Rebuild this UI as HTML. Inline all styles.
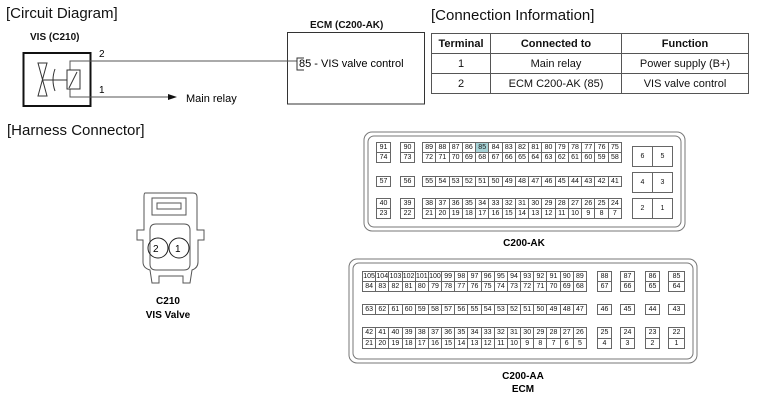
<!DOCTYPE html>
<html><head><style>
body{margin:0;width:757px;height:403px;background:#fff;position:relative;overflow:hidden;font-family:"Liberation Sans",Arial,sans-serif;color:#111}
.t{position:absolute;white-space:nowrap}
.b{position:absolute;display:grid;background:#666;gap:1px;padding:1px;box-sizing:border-box}
.b span{background:#fff;font-size:7px;display:flex;align-items:center;justify-content:center;line-height:1}
.h{background:#a8d4d8!important}
table{position:absolute;left:431px;top:33px;border-collapse:collapse;font-size:11px}
td{border:1px solid #555;text-align:center;height:19px;padding:0}
</style></head><body>
<div class="t" style="left:6px;top:5px;font-size:15px">[Circuit Diagram]</div>
<div class="t" style="left:431px;top:7px;font-size:15px">[Connection Information]</div>
<div class="t" style="left:7px;top:122px;font-size:15px">[Harness Connector]</div>
<div class="t" style="left:30px;top:32px;font-size:10px;font-weight:bold">VIS (C210)</div>
<div class="t" style="left:310px;top:20px;font-size:10px;font-weight:bold">ECM (C200-AK)</div>

<svg style="position:absolute;left:0;top:0" width="757" height="403">
<rect x="23.5" y="53" width="67" height="53" fill="none" stroke="#111" stroke-width="2"/>
<rect x="287.5" y="32.5" width="137" height="71.5" fill="none" stroke="#333"/>
<polyline points="70,70 70,61 297,61" fill="none" stroke="#555"/>
<polyline points="70,89 70,97 170,97" fill="none" stroke="#555"/>
<polygon points="168,94 177,97 168,100" fill="#111"/>
<polyline points="304,58 297,58 297,70 304,70" fill="none" stroke="#333"/>
<rect x="67" y="70" width="13" height="19" fill="none" stroke="#333"/>
<line x1="69" y1="88" x2="77" y2="72" stroke="#333"/>
<polygon points="38,63 47,63 38,96 47,96" fill="none" stroke="#333"/>
<line x1="43" y1="80" x2="67" y2="80" stroke="#333"/>
<path d="M55,69 Q51,80 55,91" fill="none" stroke="#333"/>
<text x="99" y="57" font-size="10">2</text>
<text x="99" y="93" font-size="10">1</text>
<text x="186" y="102" font-size="11">Main relay</text>
<text x="299" y="67" font-size="11">85 - VIS valve control</text>

<g fill="none" stroke="#555">
<path d="M145,193 H193 Q197,193 197,197 V230 H204 V240 H198 V262 Q198,268 192,270 L190,283 H183 V276 H159 V283 H152 L150,270 Q143,268 143,262 V240 H137 V230 H144 V197 Q144,193 145,193 Z"/>
<rect x="152" y="198" width="34" height="17"/>
<rect x="157" y="203" width="24" height="6"/>
<path d="M150,230 Q150,224 156,224 H184 Q190,224 190,230 V264 Q190,270 184,270 H156 Q150,270 150,264 Z"/>
<circle cx="158" cy="248" r="10" stroke="#222"/>
<circle cx="179" cy="248" r="10" stroke="#222"/>
</g>
<text x="153" y="252" font-size="10">2</text>
<text x="175" y="252" font-size="10">1</text>
<text x="168" y="304" font-size="10" font-weight="bold" text-anchor="middle">C210</text>
<text x="168" y="318" font-size="10" font-weight="bold" text-anchor="middle">VIS Valve</text>

<rect x="364" y="132" width="321" height="99" rx="8" fill="none" stroke="#777"/>
<rect x="368" y="136" width="313" height="91" rx="6" fill="none" stroke="#777"/>
<text x="524" y="246" font-size="10" font-weight="bold" text-anchor="middle">C200-AK</text>
<rect x="349" y="259" width="348" height="104" rx="8" fill="none" stroke="#777"/>
<rect x="353" y="263" width="340" height="96" rx="6" fill="none" stroke="#777"/>
<text x="523" y="379" font-size="10" font-weight="bold" text-anchor="middle">C200-AA</text>
<text x="523" y="392" font-size="10" font-weight="bold" text-anchor="middle">ECM</text>
</svg>

<table>
<tr style="font-weight:bold"><td style="width:58px">Terminal</td><td style="width:130px">Connected to</td><td style="width:126px">Function</td></tr>
<tr><td>1</td><td>Main relay</td><td>Power supply (B+)</td></tr>
<tr><td>2</td><td>ECM C200-AK (85)</td><td>VIS valve control</td></tr>
</table>

<div class="b" style="left:376px;top:142px;width:15px;height:21px;grid-template-columns:1fr"><span>91</span><span>74</span></div>
<div class="b" style="left:400px;top:142px;width:15px;height:21px;grid-template-columns:1fr"><span>90</span><span>73</span></div>
<div class="b" style="left:422px;top:142px;width:200px;height:21px;grid-template-columns:repeat(15,1fr)"><span>89</span><span>88</span><span>87</span><span>86</span><span class="h">85</span><span>84</span><span>83</span><span>82</span><span>81</span><span>80</span><span>79</span><span>78</span><span>77</span><span>76</span><span>75</span><span>72</span><span>71</span><span>70</span><span>69</span><span>68</span><span>67</span><span>66</span><span>65</span><span>64</span><span>63</span><span>62</span><span>61</span><span>60</span><span>59</span><span>58</span></div>
<div class="b" style="left:376px;top:176px;width:15px;height:11px;grid-template-columns:1fr"><span>57</span></div>
<div class="b" style="left:400px;top:176px;width:15px;height:11px;grid-template-columns:1fr"><span>56</span></div>
<div class="b" style="left:422px;top:176px;width:200px;height:11px;grid-template-columns:repeat(15,1fr)"><span>55</span><span>54</span><span>53</span><span>52</span><span>51</span><span>50</span><span>49</span><span>48</span><span>47</span><span>46</span><span>45</span><span>44</span><span>43</span><span>42</span><span>41</span></div>
<div class="b" style="left:376px;top:198px;width:15px;height:21px;grid-template-columns:1fr"><span>40</span><span>23</span></div>
<div class="b" style="left:400px;top:198px;width:15px;height:21px;grid-template-columns:1fr"><span>39</span><span>22</span></div>
<div class="b" style="left:422px;top:198px;width:200px;height:21px;grid-template-columns:repeat(15,1fr)"><span>38</span><span>37</span><span>36</span><span>35</span><span>34</span><span>33</span><span>32</span><span>31</span><span>30</span><span>29</span><span>28</span><span>27</span><span>26</span><span>25</span><span>24</span><span>21</span><span>20</span><span>19</span><span>18</span><span>17</span><span>16</span><span>15</span><span>14</span><span>13</span><span>12</span><span>11</span><span>10</span><span>9</span><span>8</span><span>7</span></div>
<div class="b" style="left:632px;top:146px;width:41px;height:21px;grid-template-columns:1fr 1fr"><span>6</span><span>5</span></div>
<div class="b" style="left:632px;top:172px;width:41px;height:21px;grid-template-columns:1fr 1fr"><span>4</span><span>3</span></div>
<div class="b" style="left:632px;top:198px;width:41px;height:21px;grid-template-columns:1fr 1fr"><span>2</span><span>1</span></div>

<div class="b" style="left:362px;top:271px;width:225px;height:21px;grid-template-columns:repeat(17,1fr)"><span>105</span><span>104</span><span>103</span><span>102</span><span>101</span><span>100</span><span>99</span><span>98</span><span>97</span><span>96</span><span>95</span><span>94</span><span>93</span><span>92</span><span>91</span><span>90</span><span>89</span><span>84</span><span>83</span><span>82</span><span>81</span><span>80</span><span>79</span><span>78</span><span>77</span><span>76</span><span>75</span><span>74</span><span>73</span><span>72</span><span>71</span><span>70</span><span>69</span><span>68</span></div>
<div class="b" style="left:362px;top:304px;width:225px;height:11px;grid-template-columns:repeat(17,1fr)"><span>63</span><span>62</span><span>61</span><span>60</span><span>59</span><span>58</span><span>57</span><span>56</span><span>55</span><span>54</span><span>53</span><span>52</span><span>51</span><span>50</span><span>49</span><span>48</span><span>47</span></div>
<div class="b" style="left:362px;top:327px;width:225px;height:22px;grid-template-columns:repeat(17,1fr)"><span>42</span><span>41</span><span>40</span><span>39</span><span>38</span><span>37</span><span>36</span><span>35</span><span>34</span><span>33</span><span>32</span><span>31</span><span>30</span><span>29</span><span>28</span><span>27</span><span>26</span><span>21</span><span>20</span><span>19</span><span>18</span><span>17</span><span>16</span><span>15</span><span>14</span><span>13</span><span>12</span><span>11</span><span>10</span><span>9</span><span>8</span><span>7</span><span>6</span><span>5</span></div>
<div class="b" style="left:597px;top:271px;width:15px;height:21px;grid-template-columns:1fr"><span>88</span><span>67</span></div>
<div class="b" style="left:620px;top:271px;width:15px;height:21px;grid-template-columns:1fr"><span>87</span><span>66</span></div>
<div class="b" style="left:645px;top:271px;width:15px;height:21px;grid-template-columns:1fr"><span>86</span><span>65</span></div>
<div class="b" style="left:668px;top:271px;width:17px;height:21px;grid-template-columns:1fr"><span>85</span><span>64</span></div>
<div class="b" style="left:597px;top:304px;width:15px;height:11px;grid-template-columns:1fr"><span>46</span></div>
<div class="b" style="left:620px;top:304px;width:15px;height:11px;grid-template-columns:1fr"><span>45</span></div>
<div class="b" style="left:645px;top:304px;width:15px;height:11px;grid-template-columns:1fr"><span>44</span></div>
<div class="b" style="left:668px;top:304px;width:17px;height:11px;grid-template-columns:1fr"><span>43</span></div>
<div class="b" style="left:597px;top:327px;width:15px;height:22px;grid-template-columns:1fr"><span>25</span><span>4</span></div>
<div class="b" style="left:620px;top:327px;width:15px;height:22px;grid-template-columns:1fr"><span>24</span><span>3</span></div>
<div class="b" style="left:645px;top:327px;width:15px;height:22px;grid-template-columns:1fr"><span>23</span><span>2</span></div>
<div class="b" style="left:668px;top:327px;width:17px;height:22px;grid-template-columns:1fr"><span>22</span><span>1</span></div>
</body></html>
